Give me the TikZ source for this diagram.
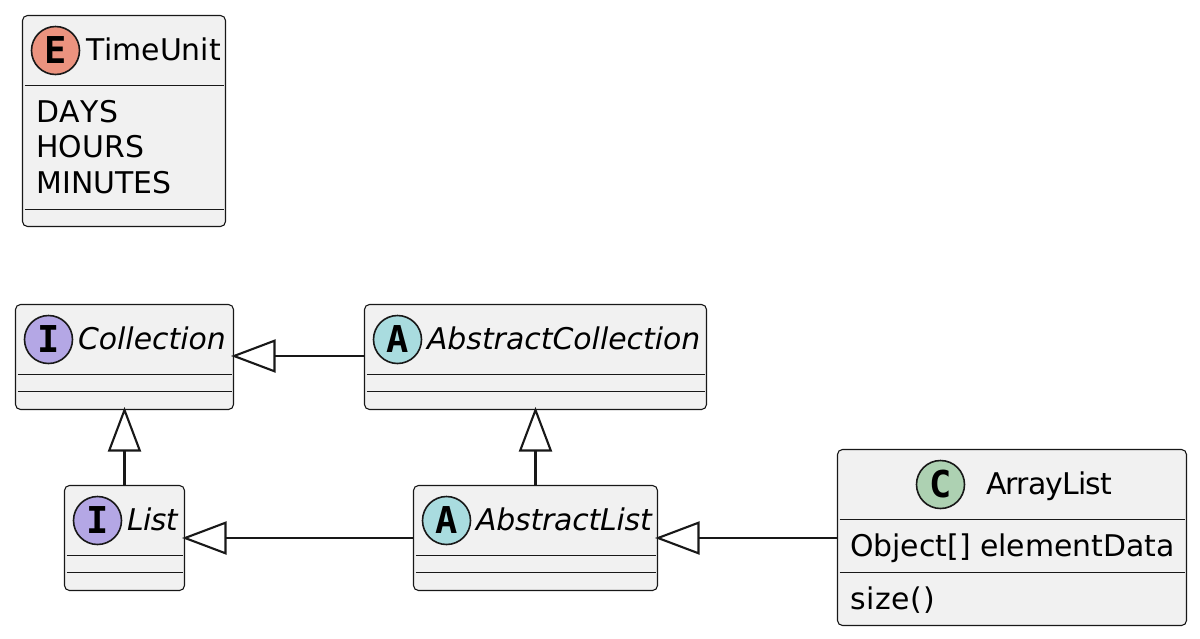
\documentclass[tikz,border=0pt]{standalone}
\usepackage{fontspec}
\setmainfont{DejaVu Sans}[Kerning=Off]
\newfontfamily\spotfont{DejaVu Sans Mono}[BoldFont={DejaVu Sans Mono Bold}]
\usetikzlibrary{arrows.meta}
\definecolor{umlbg}{HTML}{F1F1F1}
\definecolor{umlline}{HTML}{181818}
\definecolor{spotE}{HTML}{EB937F}
\definecolor{spotI}{HTML}{B4A7E5}
\definecolor{spotA}{HTML}{A9DCDF}
\definecolor{spotC}{HTML}{ADD1B2}
\tikzset{
  umlbox/.style={draw=umlline,fill=umlbg,line width=1.1pt,rounded corners=5pt,inner sep=0pt,outer sep=0pt},
  spot/.style={circle,draw=umlline,line width=1.6pt,minimum size=48pt,inner sep=0pt,font=\spotfont\bfseries\fontsize{37}{37}\selectfont},
  uml/.style={anchor=base west,inner sep=0pt,outer sep=0pt,font=\fontsize{29.9}{30}\selectfont,text=black},
  umlit/.style={uml,font=\fontsize{29.9}{30}\selectfont\itshape},
  sect/.style={draw=umlline,line width=1pt,shorten <=2pt,shorten >=2pt},
  ext/.style={draw=umlline,line width=2.1pt,shorten >=-2.5pt,-{Triangle[open,length=44.5pt,width=33pt,line width=2.1pt]}}
}
\begin{document}
\begin{tikzpicture}[x=1pt,y=-1pt]
\useasboundingbox (0,0) rectangle (1200,638);
% boxes
\node[umlbox,minimum width=203pt,minimum height=211pt] (tu) at (124,121) {};
\node[umlbox,minimum width=218pt,minimum height=105pt] (coll) at (124.5,357) {};
\node[umlbox,minimum width=342pt,minimum height=105pt] (acoll) at (535.5,357) {};
\node[umlbox,minimum width=120pt,minimum height=105pt] (list) at (124.5,538) {};
\node[umlbox,minimum width=244pt,minimum height=105pt] (alist) at (535.5,538) {};
\node[umlbox,minimum width=349pt,minimum height=176pt] (arr) at (1012,537.5) {};
% separators
\draw[sect] (tu.west |- 0,85.5) -- (tu.east |- 0,85.5);
\draw[sect] (tu.west |- 0,209.5) -- (tu.east |- 0,209.5);
\draw[sect] (coll.west |- 0,374.5) -- (coll.east |- 0,374.5);
\draw[sect] (coll.west |- 0,391.5) -- (coll.east |- 0,391.5);
\draw[sect] (acoll.west |- 0,374.5) -- (acoll.east |- 0,374.5);
\draw[sect] (acoll.west |- 0,391.5) -- (acoll.east |- 0,391.5);
\draw[sect] (list.west |- 0,555.5) -- (list.east |- 0,555.5);
\draw[sect] (list.west |- 0,572.5) -- (list.east |- 0,572.5);
\draw[sect] (alist.west |- 0,555.5) -- (alist.east |- 0,555.5);
\draw[sect] (alist.west |- 0,572.5) -- (alist.east |- 0,572.5);
\draw[sect] (arr.west |- 0,519.5) -- (arr.east |- 0,519.5);
\draw[sect] (arr.west |- 0,572.5) -- (arr.east |- 0,572.5);
% spots
\node[spot,fill=spotE] (se) at (55.5,50.5) {E};
\node[spot,fill=spotI] (si1) at (48.5,339.5) {I};
\node[spot,fill=spotA] (sa1) at (397.5,339.5) {A};
\node[spot,fill=spotI] (si2) at (97.5,520.5) {I};
\node[spot,fill=spotA] (sa2) at (446.5,520.5) {A};
\node[spot,fill=spotC] (sc) at (940.5,484.5) {C};
% texts
\node[uml] (t1) at (86,60.5) {TimeUnit};
\node[uml] (t2) at (36.5,122) {\addfontfeature{LetterSpace=1.5}DAYS};
\node[uml] (t3) at (36.5,157.5) {HOURS};
\node[uml] (t4) at (36.5,193) {MINUTES};
\node[umlit] (t5) at (78,349.5) {Collection};
\node[umlit] (t6) at (427,349.5) {AbstractCollection};
\node[umlit] (t7) at (127,530.5) {\addfontfeature{LetterSpace=-2}List};
\node[umlit] (t8) at (476,530.5) {\addfontfeature{LetterSpace=-0.6}AbstractList};
\node[uml] (t9) at (986,494.5) {\addfontfeature{LetterSpace=-3}ArrayList};
\node[uml] (t10) at (850,556.5) {Object[] elementData};
\node[uml] (t11) at (850.5,609.5) {\addfontfeature{LetterSpace=2}size()};
% connectors
\draw[ext] (acoll.west |- 0,356) -- (coll.east |- 0,356);
\draw[ext] (list.north) -- (coll.south);
\draw[ext] (alist.north) -- (acoll.south);
\draw[ext] (alist.west) -- (list.east);
\draw[ext] (arr.west |- alist) -- (alist.east);
\end{tikzpicture}
\end{document}
